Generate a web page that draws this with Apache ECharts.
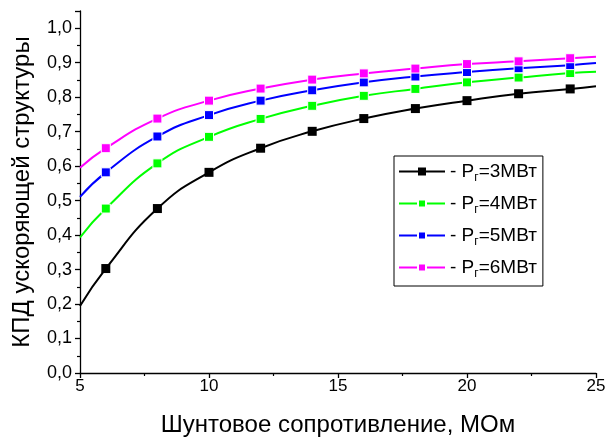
<!DOCTYPE html>
<html><head><meta charset="utf-8">
<script src="https://cdn.jsdelivr.net/npm/echarts@6/dist/echarts.min.js"></script>
<style>html,body{margin:0;padding:0;background:#fff}#c{width:608px;height:439px}</style>
</head><body><div id="c"></div>
<script>
var xValues = [5, 6, 8, 10, 12, 14, 16, 18, 20, 22, 24, 25];
var p3 = [0.194, 0.303, 0.477, 0.582, 0.652, 0.701, 0.738, 0.767, 0.790, 0.810, 0.824, 0.832];
var p4 = [0.393, 0.477, 0.608, 0.685, 0.737, 0.775, 0.804, 0.824, 0.843, 0.857, 0.870, 0.874];
var p5 = [0.511, 0.582, 0.686, 0.748, 0.790, 0.820, 0.843, 0.860, 0.873, 0.884, 0.893, 0.899];
var p6 = [0.595, 0.652, 0.738, 0.790, 0.825, 0.851, 0.869, 0.883, 0.896, 0.904, 0.913, 0.917];
var seriesNames = ['3', '4', '5', '6'];
var seriesColors = ['#000000', '#00ff00', '#0000ff', '#ff00ff'];
var xTicks = [5, 10, 15, 20, 25];
var yTicks = [0, 0.1, 0.2, 0.3, 0.4, 0.5, 0.6, 0.7, 0.8, 0.9, 1.0];

var font = 'Arial, "Liberation Sans", sans-serif';
var allData = [p3, p4, p5, p6];
function mk(vals) {
  return xValues.map(function (x, i) {
    var item = { value: [x, vals[i]] };
    if (i === 0 || i === xValues.length - 1) item.symbolSize = 0;
    return item;
  });
}
var series = allData.map(function (vals, k) {
  return {
    name: seriesNames[k],
    type: 'line',
    smooth: 0.5,
    symbol: 'rect',
    symbolSize: 9,
    showAllSymbol: true,
    lineStyle: { color: seriesColors[k], width: 2 },
    itemStyle: { color: seriesColors[k], borderColor: '#fff', borderWidth: k === 0 ? 0 : 1 },
    data: mk(vals),
    z: 2 + k
  };
});

var chart = echarts.init(document.getElementById('c'), null, { renderer: 'canvas' });
chart.setOption({
  animation: false,
  backgroundColor: '#fff',
  grid: { left: 80, right: 12, top: 11, bottom: 66, containLabel: false, outerBoundsMode: 'none' },
  xAxis: {
    type: 'value', min: 5, max: 25, interval: 5,
    axisLine: { lineStyle: { color: '#000', width: 1.3 } },
    axisTick: { inside: false, length: 5, lineStyle: { color: '#000', width: 1.3 } },
    minorTick: { show: true, splitNumber: 2, length: 3, lineStyle: { color: '#000', width: 1.2 } },
    splitLine: { show: false },
    axisLabel: { color: '#000', fontSize: 17, fontFamily: font, margin: 5,
      formatter: function (v) { return xTicks.indexOf(v) >= 0 ? String(v) : ''; } },
    name: 'Шунтовое сопротивление, МОм',
    nameLocation: 'middle', nameGap: 40,
    nameTextStyle: { color: '#000', fontSize: 24, fontFamily: font }
  },
  yAxis: {
    type: 'value', min: 0, max: 1.05, interval: 0.1,
    axisLine: { show: true, lineStyle: { color: '#000', width: 1.3 } },
    axisTick: { show: true, inside: false, length: 5, lineStyle: { color: '#000', width: 1.3 } },
    minorTick: { show: true, splitNumber: 2, length: 3, lineStyle: { color: '#000', width: 1.2 } },
    splitLine: { show: false },
    axisLabel: { color: '#000', fontSize: 18, fontFamily: font, margin: 8,
      formatter: function (v) {
        for (var i = 0; i < yTicks.length; i++) {
          if (Math.abs(v - yTicks[i]) < 1e-6) return yTicks[i].toFixed(1).replace('.', ',');
        }
        return '';
      } },
    name: 'КПД ускоряющей структуры',
    nameLocation: 'middle', nameGap: 46, nameRotate: 90,
    nameTextStyle: { color: '#000', fontSize: 24, fontFamily: font }
  },
  legend: {
    orient: 'vertical', left: 394, top: 156,
    padding: [6, 6, 6, 4],
    borderColor: '#000', borderWidth: 1,
    backgroundColor: '#fff',
    itemWidth: 46, itemHeight: 10, itemGap: 10,
    data: seriesNames,
    formatter: function (n) { return '{t|- P}{s|г}{t|=' + n + 'МВт}'; },
    textStyle: {
      color: '#000', fontFamily: font, padding: [0, 0, 0, 0],
      rich: {
        t: { fontSize: 19, fontFamily: font, color: '#000' },
        s: { fontSize: 12, fontFamily: font, color: '#000', padding: [13, 0, 0, 0] }
      }
    }
  },
  series: series
});
</script></body></html>
